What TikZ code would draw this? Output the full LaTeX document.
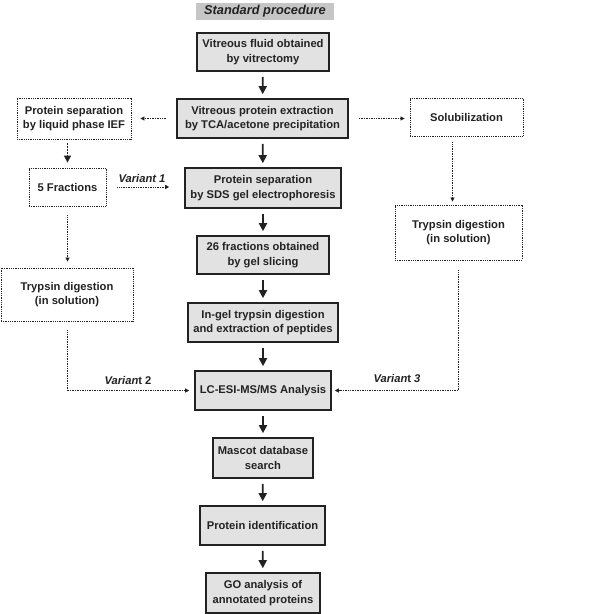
\documentclass[tikz,border=0pt]{standalone}
\usepackage{fontspec}
\setmainfont{Liberation Sans}
\usepackage{tikz}
\usetikzlibrary{arrows.meta}

\definecolor{boxgray}{HTML}{E2E2E2}
\definecolor{titlegray}{HTML}{C6C6C6}
\definecolor{inkgray}{HTML}{222222}

\begin{document}
\begin{tikzpicture}[x=1pt, y=-1pt, font=\fontsize{11.2}{14.6}\selectfont\bfseries, text=inkgray,
  stdbox/.style={draw=inkgray, line width=1.6pt, fill=boxgray, align=center, inner sep=0pt},
  varbox/.style={draw=inkgray, line width=0.8pt, dash pattern=on 1pt off 0.8pt, fill=white, align=center, inner sep=0pt},
  mainarrow/.style={draw=inkgray, line width=1.8pt, -{Triangle[width=8pt,length=8pt]}, shorten <=5pt, shorten >=4pt},
  dotarrow/.style={draw=inkgray, line width=0.7pt, dash pattern=on 1pt off 0.7pt, -{Triangle[width=4pt,length=4pt]}},
  varlabel/.style={font=\fontsize{11.2}{14}\selectfont\bfseries\itshape}]
\useasboundingbox (0,0) rectangle (600,614);

\node[fill=titlegray, minimum width=138pt, minimum height=17pt, inner sep=0pt,
  font=\fontsize{12.8}{15}\selectfont\bfseries\itshape] (title) at (265,11.5) {Standard procedure};

% standard procedure
\node[stdbox, minimum width=132pt, minimum height=38pt] (fluid) at (263,52) {Vitreous fluid obtained\\by vitrectomy};
\node[stdbox, minimum width=171pt, minimum height=39pt] (extract) at (262.5,118.5) {Vitreous protein extraction\\by TCA/acetone precipitation};
\node[stdbox, minimum width=156pt, minimum height=40pt] (sds) at (263,188) {Protein separation\\by SDS gel electrophoresis};
\node[stdbox, minimum width=132pt, minimum height=38pt] (slice) at (263,255) {26 fractions obtained\\by gel slicing};
\node[stdbox, minimum width=150pt, minimum height=39pt] (ingel) at (263,322.5) {In-gel trypsin digestion\\and extraction of peptides};
\node[stdbox, minimum width=136pt, minimum height=39pt] (lcms) at (263,390.5) {LC-ESI-MS/MS Analysis};
\node[stdbox, minimum width=100pt, minimum height=40pt] (mascot) at (263,458) {Mascot database\\search};
\node[stdbox, minimum width=125pt, minimum height=39pt] (ident) at (262.5,525.5) {Protein identification};
\node[stdbox, minimum width=114pt, minimum height=40pt] (goan) at (263,593) {GO analysis of\\annotated proteins};

\draw[mainarrow] (fluid) -- (extract);
\draw[mainarrow] (extract) -- (sds);
\draw[mainarrow] (sds) -- (slice);
\draw[mainarrow] (slice) -- (ingel);
\draw[mainarrow] (ingel) -- (lcms);
\draw[mainarrow] (lcms) -- (mascot);
\draw[mainarrow] (mascot) -- (ident);
\draw[mainarrow] (ident) -- (goan);

% variants
\node[varbox, minimum width=114pt, minimum height=41pt] (ief) at (74,118.5) {Protein separation\\by liquid phase IEF};
\node[varbox, minimum width=77pt, minimum height=38pt] (five) at (67.5,187) {5 Fractions};
\node[varbox, minimum width=132pt, minimum height=53pt] (trypl) at (67,294.5) {Trypsin digestion\\(in solution)};
\node[varbox, minimum width=113pt, minimum height=38pt] (solub) at (466.5,117) {Solubilization};
\node[varbox, minimum width=127pt, minimum height=55pt] (trypr) at (458.5,232.5) {Trypsin digestion\\(in solution)};

\draw[dotarrow, shorten <=10pt, shorten >=9pt] (extract) -- (extract.west -| ief.east);
\draw[dotarrow, line width=1.3pt, dash pattern=on 2pt off 1pt, -{Triangle[width=7pt,length=7pt]}, shorten <=4pt, shorten >=5pt] (ief.south -| five) -- (five);
\draw[dotarrow, shorten <=11pt, shorten >=15pt] (five) -- (five -| sds.west);
\draw[dotarrow, shorten <=9pt, shorten >=6pt] (five.south) -- (five.south |- trypl.north);
\draw[dotarrow, shorten <=10pt, shorten >=5pt] (extract) -- (extract -| solub.west);
\draw[dotarrow, shorten <=6pt, shorten >=3pt] ([xshift=-14pt]solub.south) -- ([xshift=-14pt]solub.south |- trypr.north);
\draw[dotarrow, shorten <=9pt, shorten >=5pt] (trypl.south) |- (lcms.west);
\draw[dotarrow, shorten <=10pt, shorten >=3pt] (trypr.south) |- (lcms.east);

\node[varlabel] (var1) at (142,178) {Variant 1};
\node[varlabel] (var2) at (128,380) {Varian\upshape t 2};
\node[varlabel] (var3) at (397,378) {Varian{\upshape t} 3};
\end{tikzpicture}
\end{document}
